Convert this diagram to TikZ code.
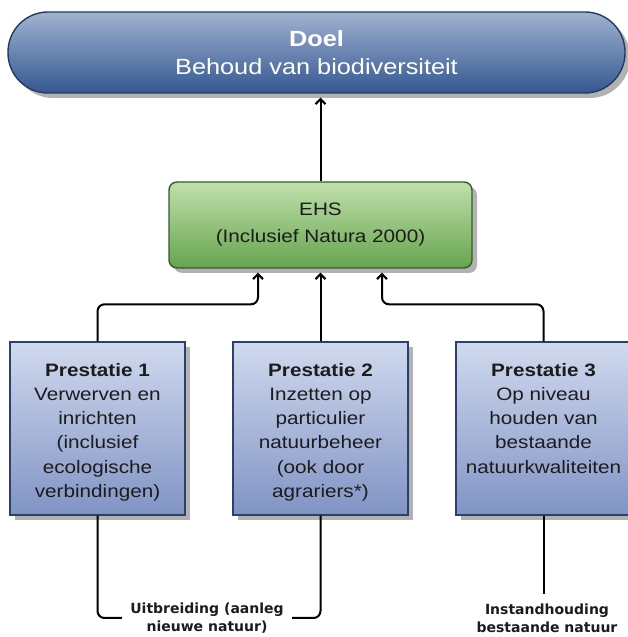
\documentclass[tikz,border=0pt]{standalone}
\usepackage{fontspec}
\setmainfont{Liberation Sans}[FakeStretch=1.15]
\newfontfamily\lblfont{DejaVu Sans}
\usetikzlibrary{arrows.meta,shadows}
\definecolor{goaltop}{RGB}{160,178,208}
\definecolor{goalbot}{RGB}{52,88,145}
\definecolor{goalline}{RGB}{38,58,95}
\definecolor{ehstop}{RGB}{192,224,172}
\definecolor{ehsbot}{RGB}{102,164,78}
\definecolor{ehsline}{RGB}{52,92,42}
\definecolor{ptop}{RGB}{208,218,238}
\definecolor{pbot}{RGB}{128,147,196}
\definecolor{pline}{RGB}{44,64,110}
\definecolor{textdark}{RGB}{28,28,28}
\begin{document}
\begin{tikzpicture}[x=1pt,y=1pt,
  shad/.style={drop shadow={shadow xshift=5pt,shadow yshift=-5pt,fill=black!30,opacity=1}},
  goal/.style={shad, draw=goalline, line width=1.4pt, top color=goaltop, bottom color=goalbot,
    rounded corners=40pt, minimum width=617pt, minimum height=81pt, inner sep=0pt,
    align=center, text=white, font=\fontsize{22}{28}\selectfont},
  ehsbox/.style={shad, draw=ehsline, line width=1.4pt, top color=ehstop, bottom color=ehsbot,
    rounded corners=8pt, minimum width=303pt, minimum height=86pt, inner sep=0pt,
    align=center, text=textdark, font=\fontsize{18}{27}\selectfont},
  pbox/.style={shad, draw=pline, line width=1.4pt, top color=ptop, bottom color=pbot,
    minimum width=175pt, minimum height=173pt, inner sep=0pt, text=textdark,
    font=\fontsize{18}{24.3}\selectfont},
  conn/.style={line width=2pt, draw=black},
  arr/.style={conn, -{Straight Barb[length=5pt,width=10pt]}, shorten >=4pt},
  lbl/.style={fill=white, inner xsep=8pt, inner ysep=1pt, align=center, text=textdark,
    font=\lblfont\bfseries\fontsize{14}{18}\selectfont}
]
\useasboundingbox (0,0) rectangle (628,637);
\node[goal] (goal) at (316.5,584.5) {\textbf{Doel}\\Behoud van biodiversiteit};
\node[ehsbox] (ehs) at (320.5,412) {EHS\\(Inclusief Natura 2000)};
\node[pbox] (p1) at (97.5,208.5) {\begin{minipage}[c][173pt][t]{175pt}\vspace*{21pt}\centering
  \textbf{Prestatie 1}\\Verwerven en\\inrichten\\(inclusief\\ecologische\\verbindingen)\end{minipage}};
\node[pbox] (p2) at (320.5,208.5) {\begin{minipage}[c][173pt][t]{175pt}\vspace*{21pt}\centering
  \textbf{Prestatie 2}\\Inzetten op\\particulier\\natuurbeheer\\(ook door\\agrariers*)\end{minipage}};
\node[pbox] (p3) at (543.5,208.5) {\begin{minipage}[c][173pt][t]{175pt}\vspace*{21pt}\centering
  \textbf{Prestatie 3}\\Op niveau\\houden van\\bestaande\\natuurkwaliteiten\end{minipage}};
\draw[arr] (ehs.north) -- (ehs.north |- goal.south);
\draw[arr, rounded corners=7pt] (p1.north) -- ++(0,37) -| ([xshift=-62.5pt]ehs.south);
\draw[arr] (p2.north) -- (ehs.south);
\draw[arr, rounded corners=7pt] (p3.north) -- ++(0,37) -| ([xshift=61.5pt]ehs.south);
\coordinate (bm) at (207,19);
\draw[conn, rounded corners=7pt] (p1.south) |- (bm) -| (p2.south);
\node[lbl] (ub) at (bm) {Uitbreiding (aanleg\\nieuwe natuur)};
\node[lbl] (ih) at (547,18.5) {Instandhouding\\bestaande natuur};
\draw[conn, shorten >=9pt] (p3.south) -- (p3.south |- ih.north);
\end{tikzpicture}
\end{document}
